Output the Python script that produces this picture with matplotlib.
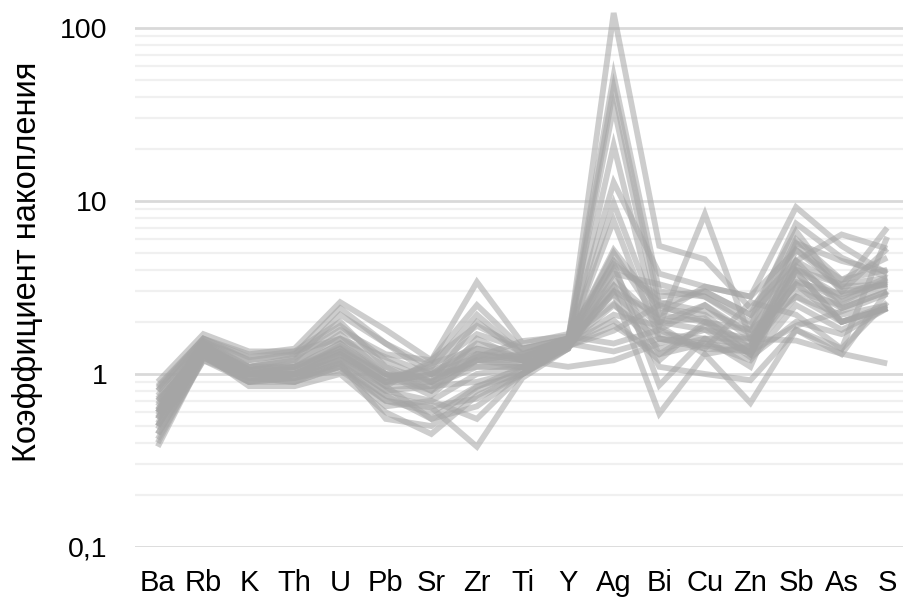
import matplotlib
matplotlib.use('Agg')
import matplotlib.pyplot as plt
import numpy as np

elements = ['Ba', 'Rb', 'K', 'Th', 'U', 'Pb', 'Sr', 'Zr', 'Ti', 'Y',
            'Ag', 'Bi', 'Cu', 'Zn', 'Sb', 'As', 'S']

# коэффициенты накопления по пробам
s01 = [0.55, 1.45, 1.05, 1.10, 1.50, 1.00, 0.90, 1.30, 1.20, 1.50, 122, 5.5, 4.6, 2.4, 4.5, 3.2, 3.3]
s02 = [0.70, 1.40, 1.00, 1.00, 1.30, 0.90, 1.00, 1.50, 1.30, 1.60, 53, 3.0, 2.8, 1.9, 5.7, 4.5, 3.9]
s03 = [0.60, 1.50, 1.10, 1.20, 1.60, 1.10, 0.80, 1.20, 1.10, 1.50, 45, 2.5, 3.0, 2.2, 6.7, 3.0, 3.3]
s04 = [0.80, 1.60, 1.20, 1.30, 1.90, 1.20, 0.90, 2.00, 1.30, 1.60, 35, 2.2, 2.0, 1.5, 4.5, 2.4, 3.0]
s05 = [0.50, 1.30, 0.95, 0.90, 1.20, 0.80, 0.70, 1.00, 1.10, 1.40, 21, 1.8, 2.5, 1.6, 3.3, 2.0, 2.4]
s06 = [0.65, 1.50, 1.00, 1.10, 1.40, 0.95, 1.10, 1.70, 1.40, 1.60, 12.8, 3.8, 3.2, 2.8, 5.2, 3.5, 4.7]
s07 = [0.45, 1.20, 0.90, 0.95, 1.10, 0.70, 0.60, 0.85, 1.00, 1.50, 9.7, 2.0, 1.8, 1.3, 4.0, 2.8, 3.6]
s08 = [0.75, 1.55, 1.10, 1.20, 2.20, 1.50, 1.00, 1.40, 1.20, 1.60, 7.7, 1.6, 1.4, 1.35, 2.8, 2.0, 2.5]
s09 = [0.58, 1.35, 1.00, 1.00, 1.30, 0.90, 0.90, 1.20, 1.15, 1.55, 5.2, 2.4, 2.2, 1.4, 5.7, 3.0, 5.3]
s10 = [0.85, 1.60, 1.30, 1.40, 2.60, 1.80, 1.20, 3.40, 1.50, 1.70, 4.35, 0.86, 1.6, 1.6, 3.3, 2.4, 3.0]
s11 = [0.50, 1.30, 0.85, 0.85, 1.00, 0.60, 0.45, 0.75, 1.00, 1.40, 3.8, 3.3, 2.8, 2.0, 7.4, 4.7, 3.6]
s12 = [0.62, 1.45, 1.05, 1.15, 1.70, 1.00, 0.75, 1.30, 1.25, 1.55, 3.25, 1.9, 8.4, 1.6, 3.9, 2.0, 2.4]
s13 = [0.40, 1.25, 0.95, 0.95, 1.15, 0.75, 0.55, 0.65, 1.00, 1.45, 2.96, 0.59, 1.3, 0.68, 1.8, 1.3, 3.0]
s14 = [0.70, 1.40, 1.00, 1.05, 1.40, 0.85, 1.20, 2.50, 1.40, 1.60, 2.55, 1.4, 1.6, 1.1, 4.5, 6.4, 5.3]
s15 = [0.55, 1.35, 1.00, 1.00, 1.25, 0.90, 1.00, 1.10, 1.10, 1.50, 2.04, 1.2, 2.0, 1.8, 2.8, 2.2, 2.5]
s16 = [0.48, 1.30, 0.90, 1.00, 1.20, 0.80, 0.85, 0.90, 1.05, 1.45, 1.78, 2.5, 2.0, 1.3, 3.5, 2.7, 3.4]
s17 = [0.90, 1.70, 1.35, 1.35, 1.60, 1.25, 1.00, 1.25, 1.55, 1.65, 1.5, 1.8, 1.4, 2.6, 2.2, 1.4, 6.2]
s18 = [0.60, 1.40, 1.10, 1.10, 1.35, 1.00, 0.95, 1.20, 1.20, 1.10, 1.2, 1.5, 1.8, 1.6, 1.56, 1.31, 1.15]
s19 = [0.42, 1.20, 0.95, 0.90, 1.10, 0.65, 0.70, 0.55, 1.00, 1.40, 4.0, 1.3, 1.5, 1.2, 2.5, 1.8, 2.4]
s20 = [0.38, 1.25, 0.90, 0.95, 1.05, 0.70, 0.64, 0.38, 0.95, 1.40, 3.2, 1.1, 1.0, 0.92, 1.8, 1.4, 2.6]
s21 = [0.80, 1.55, 1.20, 1.30, 2.40, 1.50, 1.10, 2.20, 1.30, 1.55, 5.0, 2.0, 2.5, 1.7, 6.0, 3.5, 4.0]
s22 = [0.52, 1.30, 1.00, 0.95, 1.15, 0.55, 0.50, 0.80, 1.05, 1.50, 2.5, 1.6, 1.5, 1.4, 3.0, 2.5, 3.2]
s23 = [0.72, 1.45, 1.10, 1.25, 1.80, 1.30, 1.20, 1.90, 1.40, 1.60, 4.3, 2.8, 3.0, 2.2, 4.2, 2.6, 3.5]
s24 = [0.67, 1.50, 1.05, 1.05, 1.45, 1.00, 0.80, 1.60, 1.20, 1.50, 3.0, 2.2, 3.2, 2.8, 9.2, 5.5, 3.8]
s25 = [0.45, 1.25, 0.90, 0.90, 1.10, 0.75, 0.65, 0.72, 1.00, 1.45, 1.9, 1.3, 1.9, 1.25, 2.0, 1.7, 2.4]
s26 = [0.60, 1.40, 1.00, 1.00, 1.30, 0.90, 1.15, 1.40, 1.25, 1.55, 2.9, 1.7, 1.6, 1.45, 3.4, 2.9, 3.3]
s27 = [0.83, 1.60, 1.25, 1.35, 2.00, 1.10, 0.90, 1.20, 1.30, 1.60, 3.5, 2.0, 2.1, 1.3, 5.2, 3.2, 7.0]
s28 = [0.50, 1.35, 0.95, 1.00, 1.20, 0.85, 0.55, 0.84, 1.10, 1.50, 2.2, 1.9, 1.3, 1.45, 3.9, 2.0, 2.4]
s29 = [0.62, 1.45, 1.05, 1.10, 1.50, 0.95, 1.05, 1.30, 1.20, 1.55, 4.5, 2.6, 2.3, 1.8, 4.0, 3.3, 3.6]
s30 = [0.56, 1.40, 1.00, 1.05, 1.35, 0.85, 0.85, 1.10, 1.10, 1.50, 1.35, 1.6, 1.45, 1.35, 1.9, 2.3, 2.9]

samples = [s01, s02, s03, s04, s05, s06, s07, s08, s09, s10,
           s11, s12, s13, s14, s15, s16, s17, s18, s19, s20,
           s21, s22, s23, s24, s25, s26, s27, s28, s29, s30]

plt.rcParams['font.family'] = ['Liberation Sans', 'DejaVu Sans']

fig = plt.figure(figsize=(9.04, 6.01), dpi=100)
ax = fig.add_axes([135 / 904, 54 / 601, 775 / 904, 547 / 601])

x = np.arange(len(elements))
for s in samples:
    ax.plot(x, s, color='#a5a5a5', alpha=0.55, lw=4.2, solid_joinstyle='miter',
            solid_capstyle='butt', clip_on=False)

ax.set_yscale('log')
ax.set_ylim(0.1, 145)
ax.set_xlim(-0.5, len(elements) - 0.5)

ax.set_yticks([0.1, 1, 10, 100])
ax.set_yticklabels(['0,1', '1', '10', '100'])
ax.yaxis.set_minor_locator(matplotlib.ticker.LogLocator(base=10, subs=np.arange(2, 10)))
ax.yaxis.set_minor_formatter(matplotlib.ticker.NullFormatter())
ax.grid(True, which='major', axis='y', color='#d9d9d9', lw=2)
ax.grid(True, which='minor', axis='y', color='#f0f0f0', lw=1.6)
ax.set_axisbelow(True)

ax.set_xticks(x)
ax.set_xticklabels(elements)
ax.tick_params(axis='both', which='both', length=0, colors='#000000')
ax.tick_params(axis='y', pad=20, labelsize=20.5)
ax.tick_params(axis='x', pad=16, labelsize=21)

for sp in ax.spines.values():
    sp.set_visible(False)

fig.text(28 / 904, 1 - 262 / 601, 'Коэффициент накопления', rotation=90,
         ha='center', va='center', fontsize=23.5)

fig.savefig('out.png', dpi=100)
